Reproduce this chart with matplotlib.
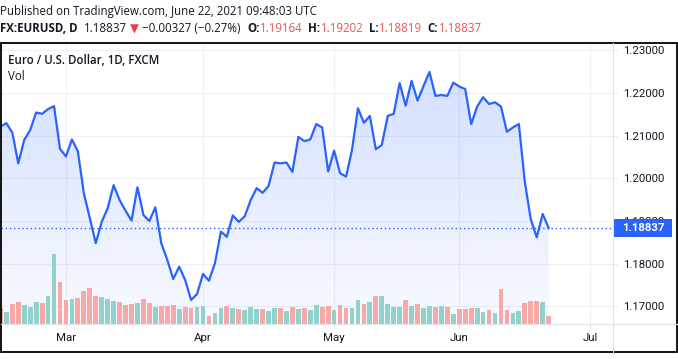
import numpy as np
import pandas as pd
import matplotlib
matplotlib.use("Agg")
import matplotlib.pyplot as plt
from matplotlib.patches import Rectangle
from matplotlib.lines import Line2D

# EUR/USD daily closes, Feb 12 - Jun 22 2021 (FXCM, weekdays)
dates = pd.bdate_range("2021-02-12", "2021-06-22")
close = [
    1.2121, 1.2129, 1.2107, 1.2035, 1.2090, 1.2113, 1.2154, 1.2151, 1.2162, 1.2169,
    1.2069, 1.2051, 1.2091, 1.2063, 1.1965, 1.1907, 1.1848, 1.1898, 1.1930, 1.1984,
    1.1949, 1.1924, 1.1901, 1.1979, 1.1914, 1.1900, 1.1932, 1.1848, 1.1809, 1.1764,
    1.1793, 1.1762, 1.1715, 1.1729, 1.1776, 1.1760, 1.1801, 1.1875, 1.1863, 1.1913,
    1.1898, 1.1911, 1.1949, 1.1977, 1.1966, 1.1982, 1.2037, 1.2035, 1.2037, 1.2015,
    1.2097, 1.2087, 1.2091, 1.2127, 1.2119, 1.2016, 1.2065, 1.2012, 1.2004, 1.2066,
    1.2164, 1.2130, 1.2146, 1.2068, 1.2078, 1.2146, 1.2151, 1.2223, 1.2170, 1.2228,
    1.2182, 1.2216, 1.2249, 1.2193, 1.2195, 1.2193, 1.2224, 1.2215, 1.2209, 1.2127,
    1.2168, 1.2190, 1.2174, 1.2178, 1.2168, 1.2109, 1.2119, 1.2127, 1.1992, 1.1904,
    1.1862, 1.19164, 1.18837,
]
volume = [
    16, 12, 20, 22, 19, 17, 22, 21, 28, 70,
    42, 24, 25, 26, 33, 36, 28, 27, 25, 23,
    22, 19, 20, 21, 25, 21, 17, 18, 18, 19,
    15, 17, 16, 17, 18, 8, 11, 16, 18, 16,
    15, 14, 17, 15, 15, 13, 16, 16, 13, 17,
    15, 16, 14, 19, 17, 18, 14, 19, 16, 16,
    24, 20, 22, 28, 28, 20, 17, 17, 24, 18,
    20, 16, 18, 17, 18, 17, 10, 15, 15, 16,
    16, 12, 14, 11, 35, 14, 11, 13, 21, 23,
    23, 22, 8,
]
price_ticks = [1.17, 1.18, 1.19, 1.20, 1.21, 1.22, 1.23]
month_labels = ["Mar", "Apr", "May", "Jun", "Jul"]

header = "Published on TradingView.com, June 22, 2021 09:48:03 UTC"
quote_runs = [
    ("FX:EURUSD, D", "#131722", "bold", 6),
    ("1.18837", "#131722", "normal", 3),
    ("\u25bc", "#f23645", "normal", 4),
    ("\u22120.00327 (\u22120.27%)", "#131722", "normal", 6),
    ("O:", "#131722", "bold", 1),
    ("1.19164", "#ef5350", "normal", 5),
    ("H:", "#131722", "bold", 1),
    ("1.19202", "#ef5350", "normal", 5),
    ("L:", "#131722", "bold", 1),
    ("1.18819", "#ef5350", "normal", 5),
    ("C:", "#131722", "bold", 1),
    ("1.18837", "#ef5350", "normal", 0),
]

BLUE = "#2962ff"
UP = "#92d2cc"
DOWN = "#f7a9a7"
GRID = "#eef0f4"
SEP = "#e0e3eb"
TXT = "#131722"

W, H = 678, 359


def fx(x):
    return x / W


def fy(y):
    return 1 - y / H


def main():
    plt.rcParams["font.family"] = ["Open Sans", "DejaVu Sans"]
    fig = plt.figure(figsize=(W / 100, H / 100), dpi=100)
    fig.patch.set_facecolor("white")

    idx = np.arange(len(close))
    closes = np.array(close)
    ylo, yhi = 1.165878, 1.231686

    ax = fig.add_axes([fx(1), fy(324), fx(612), 281 / H])
    ax.set_facecolor("white")
    for s in ax.spines.values():
        s.set_visible(False)

    # volume overlay (twinx resets the price ticks to the left, so set them after)
    ax_vol = ax.twinx()
    up = np.r_[False, np.diff(closes) > 0]
    ax_vol.bar(idx, volume, width=0.8, color=np.where(up, UP, DOWN), zorder=2)
    ax_vol.set_ylim(0, max(volume) * 4.0)
    ax_vol.set_axis_off()

    # gradient area under the line
    rgba = np.zeros((256, 1, 4))
    rgba[..., :3] = matplotlib.colors.to_rgb(BLUE)
    rgba[:, 0, 3] = np.linspace(0.03, 0.22, 256)
    im = ax.imshow(rgba, extent=[0, idx[-1], ylo, yhi], aspect="auto",
                   origin="lower", zorder=1)
    poly = ax.fill_between(idx, closes, ylo, facecolor="none", edgecolor="none")
    im.set_clip_path(poly.get_paths()[0], transform=ax.transData)

    ax.plot(idx, closes, color=BLUE, lw=1.6, zorder=3, solid_joinstyle="round")
    ax.axhline(closes[-1], color=BLUE, lw=1, ls=(0, (1, 2)), zorder=2)

    # month ticks at the first bar of each month
    fut = pd.bdate_range("2021-02-12", "2021-07-30")
    starts = pd.Series(np.arange(len(fut)), index=fut).groupby(fut.to_period("M")).first()
    month_pos = [starts[pd.Period(f"2021-{m:02d}", "M")] for m in range(3, 8)]

    ax.set_xlim(0.1, 102.8)
    ax.set_ylim(ylo, yhi)
    ax.set_xticks(month_pos)
    ax.set_xticklabels(month_labels)
    ax.set_yticks(price_ticks)
    ax.set_yticklabels([f"{p:.5f}" for p in price_ticks])
    ax.yaxis.tick_right()
    ax.tick_params(axis="both", colors=SEP, labelcolor=TXT, length=3,
                   width=0.8, labelsize=8.2)
    ax.tick_params(axis="x", pad=3.5)
    ax.tick_params(axis="y", pad=4)
    for lab in ax.get_xticklabels() + ax.get_yticklabels():
        lab.set_family(["Roboto", "DejaVu Sans"])
    ax.grid(color=GRID, lw=0.8)
    ax.set_axisbelow(True)

    # pane separators and frame
    fig.add_artist(Line2D([fx(1), fx(677)], [fy(324), fy(324)], color=SEP, lw=0.8))
    fig.add_artist(Line2D([fx(613), fx(613)], [fy(43), fy(352)], color=SEP, lw=0.8))
    fig.add_artist(Rectangle((fx(0.7), fy(352)), fx(676.6), (352 - 43) / H,
                             fill=False, ec="black", lw=1.3))

    # last price label on the price scale
    ypix = H - ax.transData.transform((0, closes[-1]))[1]
    fig.add_artist(Rectangle((fx(613), fy(ypix + 9)), fx(59), 18 / H,
                             fc=BLUE, ec="none"))
    fig.text(fx(643), fy(ypix), f"{closes[-1]:.5f}", color="white",
             fontsize=8.2, fontweight="bold", ha="center", va="center",
             family=["Roboto", "DejaVu Sans"])

    # legend inside the pane
    fig.text(fx(8), fy(61), "Euro / U.S. Dollar, 1D, FXCM", color=TXT,
             fontsize=8.3, fontweight="semibold", va="center")
    fig.text(fx(8), fy(77), "Vol", color=TXT, fontsize=8.3, va="center")

    # header lines
    fig.text(0, fy(12), header, color=TXT, fontsize=8.3, va="center")
    renderer = fig.canvas.get_renderer()
    x = 0
    for text, color, weight, gap in quote_runs:
        t = fig.text(fx(x), fy(29), text, color=color, fontweight=weight,
                     fontsize=8.3, va="center")
        bb = t.get_window_extent(renderer)
        x = bb.x1 + gap

    fig.savefig("out.png", dpi=100, facecolor="white")


if __name__ == "__main__":
    main()
